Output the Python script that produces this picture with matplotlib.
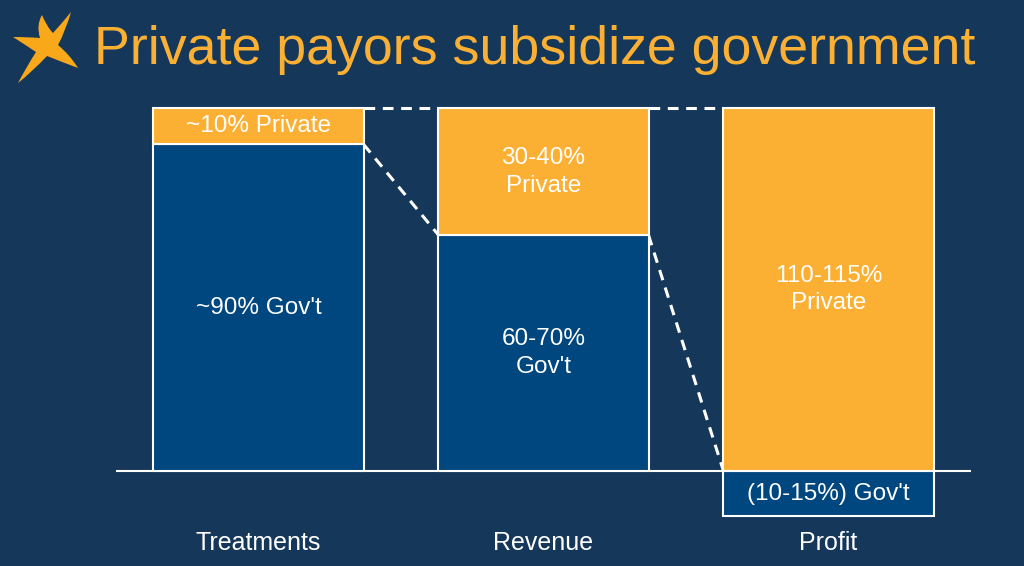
import matplotlib.pyplot as plt
from matplotlib.path import Path
from matplotlib.patches import PathPatch

# chart data (drawn heights, % of bar)
categories = ["Treatments", "Revenue", "Profit"]
gov = [90, 65, -12.5]
private = [10, 35, 100]
gov_labels = ["~90% Gov't", "60-70%\nGov't", "(10-15%) Gov't"]
private_labels = ["~10% Private", "30-40%\nPrivate", "110-115%\nPrivate"]
title = "Private payors subsidize government"

BG = "#14375a"
BLUE = "#00467f"
ORANGE = "#fbb034"

plt.rcParams['font.family'] = ['Liberation Sans', 'DejaVu Sans']

fig = plt.figure(figsize=(10.24, 5.66), dpi=100, facecolor=BG)
ax = fig.add_axes([116/1024, 0.0396, 855/1024, 0.8016])
ax.set_facecolor(BG)
ax.set_xlim(-0.5, 2.5)
ax.set_ylim(-20, 105)
ax.axis("off")

w = 0.737
x = list(range(len(categories)))

# bars
for i in x:
    g = gov[i]
    p = private[i]
    gbot = min(g, 0)
    pbot = max(g, 0)
    ax.bar(i, abs(g), w, bottom=gbot, color=BLUE, edgecolor="white", linewidth=1.5, zorder=2)
    ax.bar(i, p, w, bottom=pbot, color=ORANGE, edgecolor="white", linewidth=1.5, zorder=2)
    ax.text(i, gbot + abs(g) / 2, gov_labels[i], color="white", fontsize=17.5,
            ha="center", va="center", linespacing=1.35, zorder=3)
    ax.text(i, pbot + p / 2, private_labels[i], color="white", fontsize=17.5,
            ha="center", va="center", linespacing=1.35, zorder=3)
    ax.text(i, -19.8, categories[i], color="white", fontsize=18,
            ha="center", va="center", clip_on=False)

# baseline
ax.axhline(0, color="white", linewidth=1.5, zorder=1)

# dashed connectors
for i in range(len(categories) - 1):
    x0 = i + w / 2
    x1 = i + 1 - w / 2
    top0 = max(gov[i], 0) + private[i]
    top1 = max(gov[i + 1], 0) + private[i + 1]
    ax.plot([x0, x1], [top0, top1], color="white", linestyle=(0, (3.5, 2.5)),
            linewidth=2.2, zorder=1)
    ax.plot([x0, x1], [max(gov[i], 0), max(gov[i + 1], 0)], color="white",
            linestyle=(0, (3.5, 2.5)), linewidth=2.2, zorder=1)

# overlay for title and star (pixel coords)
ov = fig.add_axes([0, 0, 1, 1], facecolor="none")
ov.set_xlim(0, 1024)
ov.set_ylim(566, 0)
ov.axis("off")

verts = [(40, 38), (36, 25), (42, 15), (47, 27), (53, 33), (63, 22), (71, 12),
         (66, 30), (58, 45), (70, 55), (78, 68), (62, 62), (47, 56),
         (32, 72), (18, 83), (27, 66), (36, 52), (24, 44), (13, 37), (28, 37), (40, 38)]
codes = [Path.MOVETO] + [Path.CURVE3] * 20
ov.add_patch(PathPatch(Path(verts, codes), facecolor="#f9a81a", edgecolor="none"))

ov.text(94, 50, title, color=ORANGE, fontsize=38.7, ha="left", va="center")

fig.savefig("out.png", dpi=100, facecolor=BG)
